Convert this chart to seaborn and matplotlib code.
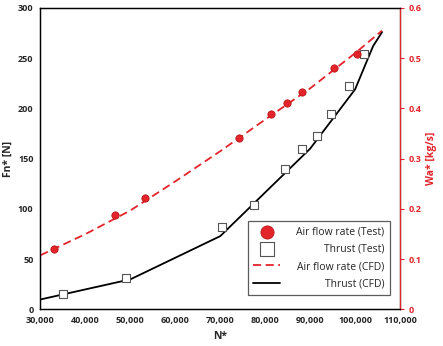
import numpy as np
import pandas as pd
import matplotlib
matplotlib.use("Agg")
import matplotlib.pyplot as plt
import seaborn as sns
from matplotlib.ticker import FuncFormatter

# Test data
air_test_n = [33100, 46500, 53350, 74200, 81200, 84800, 88200, 95200, 100350]
air_test_wa = [0.120, 0.188, 0.222, 0.341, 0.389, 0.410, 0.433, 0.481, 0.508]

thrust_test_n = [34900, 49050, 70300, 77450, 84500, 88250, 91550, 94700, 98550, 102050]
thrust_test_fn = [15.3, 31.5, 81.6, 103.6, 139.7, 159.6, 172.9, 194.8, 222.7, 253.9]

# CFD curves
air_cfd_n = [30000, 40000, 50000, 60000, 70000, 80000, 90000, 100000, 106000]
air_cfd_wa = [0.108, 0.150, 0.197, 0.255, 0.315, 0.378, 0.440, 0.510, 0.555]

thrust_cfd_n = [30000, 50000, 70000, 90000, 100000, 104000, 106000]
thrust_cfd_fn = [10, 30, 73, 160, 219, 262, 276]

RED = "#e3242b"

sns.set_style("white")
plt.rcParams["font.family"] = ["Open Sans", "DejaVu Sans"]

fig = plt.figure(figsize=(4.43, 3.46), dpi=100)
ax = fig.add_axes([0.0914, 0.1055, 0.8116, 0.8715])
ax2 = ax.twinx()

sns.lineplot(x=thrust_cfd_n, y=thrust_cfd_fn, ax=ax, color="black", lw=1.3,
             label="Thrust (CFD)", legend=False)
sns.scatterplot(x=thrust_test_n, y=thrust_test_fn, ax=ax, marker="s", s=30,
                facecolor="white", edgecolor="#555555", linewidth=0.8,
                label="Thrust (Test)", legend=False, zorder=3)

sns.lineplot(x=air_cfd_n, y=air_cfd_wa, ax=ax2, color=RED, lw=1.3,
             linestyle=(0, (4.5, 2.5)), label="Air flow rate (CFD)", legend=False)
sns.scatterplot(x=air_test_n, y=air_test_wa, ax=ax2, marker="o", s=28,
                color=RED, edgecolor="#b01010", linewidth=0.5,
                label="Air flow rate (Test)", legend=False, zorder=3)

ax.set_xlim(30000, 110000)
ax.set_ylim(0, 300)
ax2.set_ylim(0, 0.6)
ax.set_xticks(np.arange(30000, 110001, 10000))
ax.set_yticks(np.arange(0, 301, 50))
ax2.set_yticks(np.arange(0, 0.61, 0.1))
ax.xaxis.set_major_formatter(FuncFormatter(lambda v, p: f"{int(v):,}"))
ax2.yaxis.set_major_formatter(FuncFormatter(lambda v, p: "0" if v == 0 else f"{v:.1f}"))

ax.tick_params(axis="both", length=0, pad=5, labelsize=6.5)
ax2.tick_params(axis="y", length=3, width=0.8, colors=RED, labelsize=6.5, pad=3)
for lab in ax.get_xticklabels() + ax.get_yticklabels() + ax2.get_yticklabels():
    lab.set_fontweight("bold")

ax.set_xlabel("N*", fontsize=7.5, fontweight="bold", labelpad=4)
ax.set_ylabel("Fn* [N]", fontsize=7.5, fontweight="bold", labelpad=3)
ax2.set_ylabel("Wa* [kg/s]", fontsize=7.5, fontweight="bold", color=RED, labelpad=3)

for a in (ax, ax2):
    for s in a.spines.values():
        s.set_linewidth(0.9)
        s.set_color("black")
ax2.spines["right"].set_color(RED)

h1, l1 = ax.get_legend_handles_labels()
h2, l2 = ax2.get_legend_handles_labels()
hd = dict(zip(l1 + l2, h1 + h2))
order = ["Air flow rate (Test)", "Thrust (Test)", "Air flow rate (CFD)", "Thrust (CFD)"]
leg = ax2.legend([hd[k] for k in order], order, loc="lower right",
                 bbox_to_anchor=(0.972, 0.048), borderaxespad=0,
                 fontsize=7.5, frameon=True,
                 fancybox=False, edgecolor="#333333", markerscale=1.8,
                 handlelength=2.6, handletextpad=1.5, labelspacing=0.6,
                 borderpad=0.55)
leg.get_frame().set_linewidth(0.9)

# right-align legend texts by stretching the gap of shorter rows
fig.canvas.draw()
renderer = fig.canvas.get_renderer()
texts = leg.get_texts()
widths = [t.get_window_extent(renderer).width for t in texts]
wmax = max(widths)
dpicor = renderer.points_to_pixels(1.0)
rows = leg._legend_handle_box.get_children()[0].get_children()
for row, w in zip(rows, widths):
    row.sep += (wmax - w) / dpicor

fig.savefig("out.png", dpi=100)
